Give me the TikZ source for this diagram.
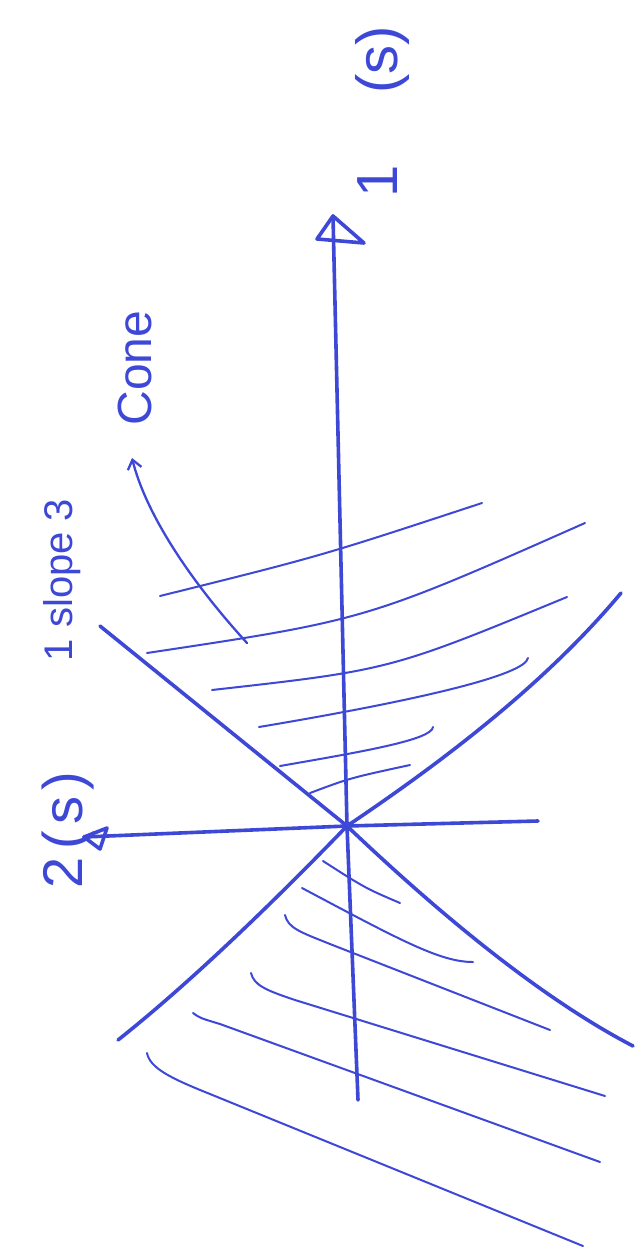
\documentclass[tikz,border=0pt]{standalone}
\usepackage{fontspec}
\setmainfont{Liberation Sans}
\usetikzlibrary{arrows.meta}
\definecolor{pen}{RGB}{62,72,214}
\begin{document}
\begin{tikzpicture}[x=1pt,y=-1pt,
  axis/.style={draw=pen,line width=3.6pt,line cap=round,line join=round},
  hatch/.style={draw=pen,line width=2pt,line cap=round},
  lbl/.style={text=pen,rotate=90,inner sep=0pt}]
\useasboundingbox[fill=white] (0,0) rectangle (636,1255);
% key points
\coordinate (O) at (347,826);
\coordinate (top) at (333,216);
\coordinate (T2) at (317,239);
\coordinate (T3) at (364,243);
\coordinate (bot) at (358,1100);
\coordinate (R) at (538,821);
\coordinate (Ltip) at (84,837);
\coordinate (L2) at (107,828);
\coordinate (L3) at (100,849);
\coordinate (UL) at (100,626);
\coordinate (UR) at (621,593);
\coordinate (LL) at (118,1040);
\coordinate (LR) at (633,1046);
% axes
\draw[axis] (bot) -- (O) -- (top);
\draw[axis] (top) -- (T2) -- (T3) -- cycle;
\draw[axis] (R) -- (O) -- (Ltip);
\draw[axis] (Ltip) -- (L2) -- (L3) -- cycle;
% cone boundaries
\draw[axis] (UL) -- (O);
\draw[axis] (O) .. controls (430,905) and (535,995) .. (LR);
\draw[axis] (LL) .. controls (200,975) and (290,885) .. (O);
\draw[axis] (O) .. controls (430,770) and (540,690) .. (UR);
\fill[pen] (O) circle (5);
% upper hatching
\coordinate (h1a) at (160,596); \coordinate (h1b) at (482,503);
\coordinate (h2a) at (147,653); \coordinate (h2b) at (585,523);
\coordinate (h3a) at (212,690); \coordinate (h3b) at (567,597);
\coordinate (h4a) at (259,727); \coordinate (h4b) at (528,658);
\coordinate (h5a) at (280,766); \coordinate (h5b) at (433,727);
\coordinate (h6a) at (310,793); \coordinate (h6b) at (410,765);
\draw[hatch] (h1a) .. controls (321,556) .. (h1b);
\draw[hatch] (h2a) .. controls (366,620) .. (h2b);
\draw[hatch] (h3a) .. controls (390,670) .. (h3b);
\draw[hatch] (h4a) .. controls (420,700) and (525,675) .. (h4b);
\draw[hatch] (h5a) .. controls (360,752) and (432,740) .. (h5b);
\draw[hatch] (h6a) .. controls (350,778) .. (h6b);
% lower hatching
\coordinate (g1a) at (323,861); \coordinate (g1b) at (400,903);
\coordinate (g2a) at (302,888); \coordinate (g2b) at (473,962);
\coordinate (g3a) at (285,915); \coordinate (g3b) at (550,1030);
\coordinate (g4a) at (251,973); \coordinate (g4b) at (605,1096);
\coordinate (g5a) at (193,1013); \coordinate (g5b) at (600,1162);
\coordinate (g6a) at (147,1053); \coordinate (g6b) at (583,1246);
\draw[hatch] (g1a) .. controls (365,888) .. (g1b);
\draw[hatch] (g2a) .. controls (400,940) and (440,962) .. (g2b);
\draw[hatch] (g3a) .. controls (288,928) and (300,932) .. (330,944) -- (g3b);
\draw[hatch] (g4a) .. controls (254,985) and (265,990) .. (295,1000) -- (g4b);
\draw[hatch] (g5a) .. controls (200,1018) .. (220,1024) -- (g5b);
\draw[hatch] (g6a) .. controls (150,1068) and (170,1078) .. (210,1094) -- (g6b);
% cone pointer
\coordinate (cs) at (247,643);
\coordinate (ct) at (132,458);
\draw[hatch,line width=2.3pt,-{Straight Barb[length=9pt,width=14pt]}] (cs) .. controls (185,575) and (145,510) .. (ct);
% labels
\node[lbl,font=\fontsize{58}{60}\selectfont] (l1) at (382,112) {1\hspace{72pt}(s)};
\node[lbl,font=\fontsize{56}{60}\selectfont] (l2) at (68,830) {2\hspace{8pt}(\hspace{6pt}s\hspace{6pt})};
\node[lbl,font=\fontsize{48}{52}\selectfont] (cone) at (135,368) {Cone};
\node[lbl,font=\fontsize{40}{44}\selectfont] (slope) at (62,580) {1 slope 3};
\end{tikzpicture}
\end{document}
